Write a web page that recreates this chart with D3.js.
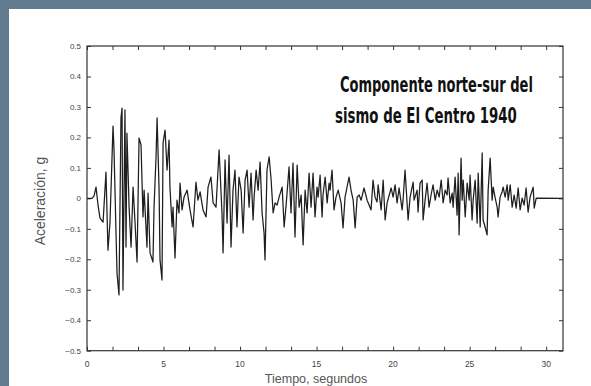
<!DOCTYPE html>
<html>
<head>
<meta charset="utf-8">
<script src="https://cdn.jsdelivr.net/npm/d3@7"></script>
<style>
  html, body { margin: 0; padding: 0; background: #617c8f; }
  #chart { display: block; }
</style>
</head>
<body>
<div id="chart"></div>
<script>
// acelerograma: tiempo (s) y aceleracion (g), vertices
const tiempo = [
  0, 0.33, 0.46, 0.59, 0.72, 0.85, 1.05, 1.24, 1.37, 1.50, 1.70, 1.76, 1.96, 2.09, 2.22, 2.29, 2.35, 2.48, 2.55, 2.61,
  2.75, 2.88, 3.01, 3.14, 3.27, 3.40, 3.53, 3.66, 3.73, 3.92, 3.99, 4.12, 4.31, 4.38, 4.51, 4.58, 4.71, 4.77, 4.90, 4.97,
  5.10, 5.23, 5.36, 5.42, 5.56, 5.62, 5.75, 5.88, 6.01, 6.08, 6.21, 6.34, 6.54, 6.73, 6.93, 7.12, 7.25, 7.39, 7.58, 7.78,
  7.91, 8.10, 8.24, 8.43, 8.63, 8.82, 8.89, 9.02, 9.15, 9.28, 9.41, 9.54, 9.67, 9.80, 9.93, 10.07, 10.20, 10.33, 10.46, 10.59,
  10.72, 10.85, 10.92, 11.05, 11.18, 11.31, 11.44, 11.57, 11.63, 11.76, 11.90, 12.03, 12.16, 12.29, 12.42, 12.55,
  12.75, 12.88, 13.01, 13.20, 13.33, 13.46, 13.59, 13.73, 13.86, 13.99, 14.12, 14.25, 14.38, 14.51, 14.64, 14.77, 14.90, 15.03,
  15.10, 15.23, 15.36, 15.42, 15.56, 15.69, 15.82, 15.88, 16.01, 16.14, 16.27, 16.41, 16.60, 16.73, 16.86, 16.99, 17.12, 17.25,
  17.39, 17.52, 17.65, 17.78, 17.91, 18.10, 18.30, 18.43, 18.56, 18.69, 18.82, 18.95, 19.02, 19.22, 19.35, 19.48, 19.61, 19.87,
  20.00, 20.13, 20.26, 20.39, 20.59, 20.65, 20.78, 20.92, 20.98, 21.11, 21.31, 21.37, 21.57, 21.63, 21.76, 21.90, 21.96, 22.09,
  22.22, 22.35, 22.48, 22.61, 22.75, 22.88, 23.01, 23.14, 23.27, 23.40, 23.53, 23.59, 23.73, 23.86, 23.92, 24.05, 24.18, 24.25,
  24.31, 24.44, 24.51, 24.58, 24.71, 24.84, 24.97, 25.03, 25.16, 25.23, 25.36, 25.49, 25.56, 25.69, 25.82, 25.88, 26.01, 26.14,
  26.21, 26.34, 26.47, 26.54, 26.67, 26.80, 26.86, 26.99, 27.12, 27.19, 27.32, 27.45, 27.52, 27.65, 27.78, 27.91, 28.04, 28.17,
  28.30, 28.43, 28.56, 28.69, 28.82, 28.95, 29.15, 29.22, 29.35, 31.10
];
const aceleracion = [
  0, 0, 0.008, 0.037, -0.022, -0.065, -0.078, 0.086, -0.17, -0.081, 0.237, 0.168, -0.245, -0.317, 0.264, 0.296, -0.301, 0.29, -0.16, 0.214,
  -0.029, -0.16, 0.037, -0.081, -0.209, 0.198, 0.175, -0.061, 0.027, -0.16, 0.017, -0.179, -0.209, -0.029, 0.136, 0.264, 0.027, -0.202, -0.268, 0.182,
  0.224, 0.093, 0.191, 0.037, -0.094, -0.029, -0.196, -0.006, -0.048, 0.050, -0.038, 0.004, 0.027, -0.038, -0.094, 0.053, -0.006, 0.021, -0.038, -0.061,
  0.037, 0.070, -0.015, -0.029, 0.159, -0.048, -0.179, 0.126, -0.081, 0.142, -0.16, 0.027, 0.093, -0.094, 0.070, 0.027, -0.114, 0.060, 0.093, -0.029,
  0.083, -0.071, 0.004, 0.093, 0.027, 0.119, -0.048, -0.114, -0.202, 0.093, 0.136, 0.060, -0.048, -0.015, -0.022, 0.004,
  0.037, -0.094, -0.022, 0.103, -0.048, 0.116, -0.127, 0.109, -0.029, 0.011, -0.153, 0.027, -0.048, 0.083, -0.029, 0.083, -0.061, 0.037,
  0.004, 0.076, -0.061, 0.011, 0.070, -0.015, 0.050, 0.027, 0.093, -0.038, 0.004, 0.027, -0.015, -0.097, 0.004, 0.037, 0.070, 0.027,
  -0.006, -0.097, 0.004, 0.011, -0.006, 0.034, -0.006, -0.022, -0.038, 0.060, 0.004, -0.012, 0.044, -0.038, 0.060, -0.071, -0.015, 0.034,
  0.004, 0.044, -0.015, 0.034, -0.038, -0.006, 0.093, -0.022, -0.071, 0.004, 0.053, -0.006, 0.027, -0.045, 0.050, 0.060, -0.071, -0.006,
  0.050, -0.029, 0.011, 0.044, -0.006, 0.027, 0.004, 0.060, -0.015, 0.027, 0.011, 0.067, -0.015, 0.017, -0.029, 0.070, -0.055, 0.083,
  -0.120, 0.132, -0.006, 0.060, -0.061, 0.050, -0.006, 0.076, -0.071, -0.006, 0.060, -0.081, 0.083, -0.094, 0.149, -0.071, -0.094, -0.120,
  0.027, 0.132, -0.006, 0.037, 0.001, -0.029, -0.061, 0.004, 0.021, 0.037, 0.004, 0.044, -0.006, 0.044, -0.029, 0.011, -0.032, 0.034,
  -0.038, 0.001, -0.022, 0.034, -0.045, 0.004, 0.037, -0.032, 0.001, 0
];

const xLabelValues = [0, 5, 10, 15, 20, 25, 30];
const yLabelValues = [0.5, 0.4, 0.3, 0.2, 0.1, 0, -0.1, -0.2, -0.3, -0.4, -0.5];
const titleLines = ['Componente norte-sur del', 'sismo de El Centro 1940'];

const W = 591, H = 386;
const plot = { left: 87, right: 563, top: 46, bottom: 350.7 };

const svg = d3.select('#chart').append('svg')
  .attr('width', W)
  .attr('height', H);

// fondo azul grisaceo y panel blanco
svg.append('rect').attr('width', W).attr('height', H).attr('fill', '#617c8f');
svg.append('rect').attr('x', 9).attr('y', 9).attr('width', W - 9).attr('height', H - 9).attr('fill', '#ffffff');

const x = d3.scaleLinear().domain([0, 31.1]).range([plot.left, plot.right]);
const y = d3.scaleLinear().domain([-0.5, 0.5]).range([plot.bottom, plot.top]);

const data = tiempo.map((t, i) => ({ t: t, a: aceleracion[i] }));

// ticks menores cada 5/3 s, como en el original
const xTicks = d3.range(0, 30.001, 5 / 3);

const axisColor = '#333';
const labelFont = '"Liberation Sans", Arial, sans-serif';

// inward ticks on all four sides
const xAxisBottom = d3.axisBottom(x).tickValues(xTicks).tickSizeInner(-4).tickSizeOuter(0).tickFormat('');
const xAxisTop = d3.axisTop(x).tickValues(xTicks).tickSizeInner(-4).tickSizeOuter(0).tickFormat('');
const yAxisLeft = d3.axisLeft(y).tickValues(yLabelValues).tickSizeInner(-4).tickSizeOuter(0).tickFormat('');
const yAxisRight = d3.axisRight(y).tickValues(yLabelValues).tickSizeInner(-4).tickSizeOuter(0).tickFormat('');

function styleAxis(g) {
  g.select('.domain').remove();
  g.selectAll('.tick line').attr('stroke', axisColor).attr('stroke-width', 1);
}

svg.append('g').attr('transform', 'translate(0,' + plot.bottom + ')').call(xAxisBottom).call(styleAxis);
svg.append('g').attr('transform', 'translate(0,' + plot.top + ')').call(xAxisTop).call(styleAxis);
svg.append('g').attr('transform', 'translate(' + plot.left + ',0)').call(yAxisLeft).call(styleAxis);
svg.append('g').attr('transform', 'translate(' + plot.right + ',0)').call(yAxisRight).call(styleAxis);

// tick labels
svg.append('g').selectAll('text')
  .data(xLabelValues)
  .enter().append('text')
  .attr('x', d => x(d))
  .attr('y', 367)
  .attr('text-anchor', 'middle')
  .attr('font-family', labelFont)
  .attr('font-size', 8.5)
  .attr('fill', '#444')
  .text(d => d);

svg.append('g').selectAll('text')
  .data(yLabelValues)
  .enter().append('text')
  .attr('x', 81)
  .attr('y', d => y(d))
  .attr('dy', '0.35em')
  .attr('text-anchor', 'end')
  .attr('font-family', labelFont)
  .attr('font-size', 8)
  .attr('fill', '#444')
  .text(d => d === 0 ? '0' : d3.format('.1f')(d));

// the signal
const line = d3.line()
  .x(d => x(d.t))
  .y(d => y(d.a));

svg.append('path')
  .datum(data)
  .attr('fill', 'none')
  .attr('stroke', '#1e1e1e')
  .attr('stroke-width', 1.25)
  .attr('stroke-linejoin', 'round')
  .attr('d', line);

// frame
svg.append('rect')
  .attr('x', plot.left)
  .attr('y', plot.top)
  .attr('width', plot.right - plot.left)
  .attr('height', plot.bottom - plot.top)
  .attr('fill', 'none')
  .attr('stroke', axisColor)
  .attr('stroke-width', 1.2);

// axis titles
svg.append('text')
  .attr('x', (plot.left + plot.right) / 2 - 9)
  .attr('y', 383)
  .attr('text-anchor', 'middle')
  .attr('font-family', labelFont)
  .attr('font-size', 12.5)
  .attr('fill', '#555')
  .text('Tiempo, segundos');

svg.append('text')
  .attr('transform', 'translate(45,201) rotate(-90)')
  .attr('text-anchor', 'middle')
  .attr('font-family', labelFont)
  .attr('font-size', 14)
  .attr('fill', '#555')
  .text('Aceleración, g');

// title inside the plot, squeezed horizontally to the condensed look
const titleX = [340, 335];
const titleY = [92, 123];
const titleWidth = [193, 182];
const titles = svg.append('g').selectAll('text')
  .data(titleLines)
  .enter().append('text')
  .attr('font-family', '"Liberation Sans Narrow", "DejaVu Sans Condensed", sans-serif')
  .attr('font-weight', 'bold')
  .attr('font-size', 22)
  .attr('fill', '#111')
  .text(d => d);

titles.each(function (d, i) {
  const w = this.getComputedTextLength();
  const k = titleWidth[i] / w;
  d3.select(this).attr('transform', 'translate(' + titleX[i] + ',' + titleY[i] + ') scale(' + k + ',1)');
});
</script>
</body>
</html>
